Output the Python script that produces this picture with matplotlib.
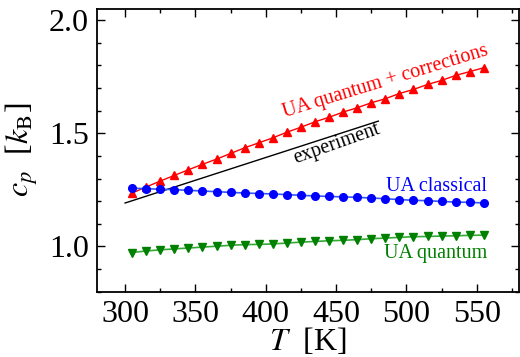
import matplotlib
matplotlib.use("Agg")
import matplotlib.pyplot as plt
from matplotlib.ticker import MultipleLocator

plt.rcParams['font.family'] = ['Liberation Serif', 'DejaVu Serif']
plt.rcParams['mathtext.fontset'] = 'stix'

# --- data ---
temps = [305, 315, 325, 335, 345, 355, 365, 375, 385, 395, 405, 415, 425,
         435, 445, 455, 465, 475, 485, 495, 505, 515, 525, 535, 545, 555]
cpQuantumCorr = [1.236, 1.263, 1.289, 1.314, 1.339, 1.363, 1.386, 1.411, 1.436,
                 1.458, 1.480, 1.505, 1.527, 1.551, 1.571, 1.594, 1.613, 1.635,
                 1.653, 1.676, 1.694, 1.716, 1.734, 1.756, 1.773, 1.790]
cpClassical = [1.258, 1.255, 1.253, 1.251, 1.248, 1.245, 1.242, 1.239, 1.236,
               1.234, 1.232, 1.229, 1.226, 1.223, 1.221, 1.219, 1.217, 1.214,
               1.211, 1.207, 1.204, 1.202, 1.199, 1.196, 1.195, 1.192]
cpQuantum = [0.973, 0.980, 0.985, 0.989, 0.993, 0.997, 1.001, 1.005, 1.008,
             1.009, 1.011, 1.015, 1.019, 1.022, 1.025, 1.027, 1.030, 1.034,
             1.037, 1.040, 1.043, 1.044, 1.046, 1.047, 1.049, 1.050]
expTemps = [300, 480]
expCp = [1.192, 1.554]

fig = plt.figure(figsize=(5.2, 3.57), dpi=100)
ax = fig.add_axes([0.1865, 0.183, 0.8115, 0.792])

ax.plot(expTemps, expCp, color='black', lw=1.0)
ax.plot(temps, cpQuantumCorr, color='red', lw=1.0, marker='^', ms=6,
        mec='red', mfc='red')
ax.plot(temps, cpClassical, color='#3355ff', lw=1.2, marker='o', ms=5.5,
        mec='blue', mfc='blue')
ax.plot(temps, cpQuantum, color='#33aa33', lw=1.2, marker='v', ms=6,
        mec='green', mfc='green')

#---- labels on the curves ----#
ax.text(413.6, 1.573, "UA quantum + corrections", color='red', fontsize=14.5,
        rotation=17, rotation_mode='anchor', ha='left', va='baseline')
ax.text(421.4, 1.366, "experiment", color='black', fontsize=14.5,
        rotation=19.5, rotation_mode='anchor', ha='left', va='baseline')
ax.text(557.5, 1.243, "UA classical", color='blue', fontsize=14.5,
        ha='right', va='baseline')
ax.text(557.5, 0.948, "UA quantum", color='green', fontsize=14.5,
        ha='right', va='baseline')

ax.set_xlim(280, 580)
ax.set_ylim(0.8, 2.05)
ax.xaxis.set_major_locator(MultipleLocator(50))
ax.xaxis.set_minor_locator(MultipleLocator(25))
ax.yaxis.set_major_locator(MultipleLocator(0.5))
ax.yaxis.set_minor_locator(MultipleLocator(0.1))
ax.tick_params(which='both', direction='in', top=True, right=True,
               labelsize=23, width=1.0)
ax.tick_params(which='major', length=6, pad=6)
ax.tick_params(which='minor', length=3)
for s in ax.spines.values():
    s.set_linewidth(1.3)

ax.set_xlabel(r"$T$  [K]", fontsize=23, labelpad=-2)
ax.set_ylabel(r"$c_p$  [$k_\mathrm{B}$]", fontsize=23, labelpad=6)

fig.savefig("out.png", dpi=100)
